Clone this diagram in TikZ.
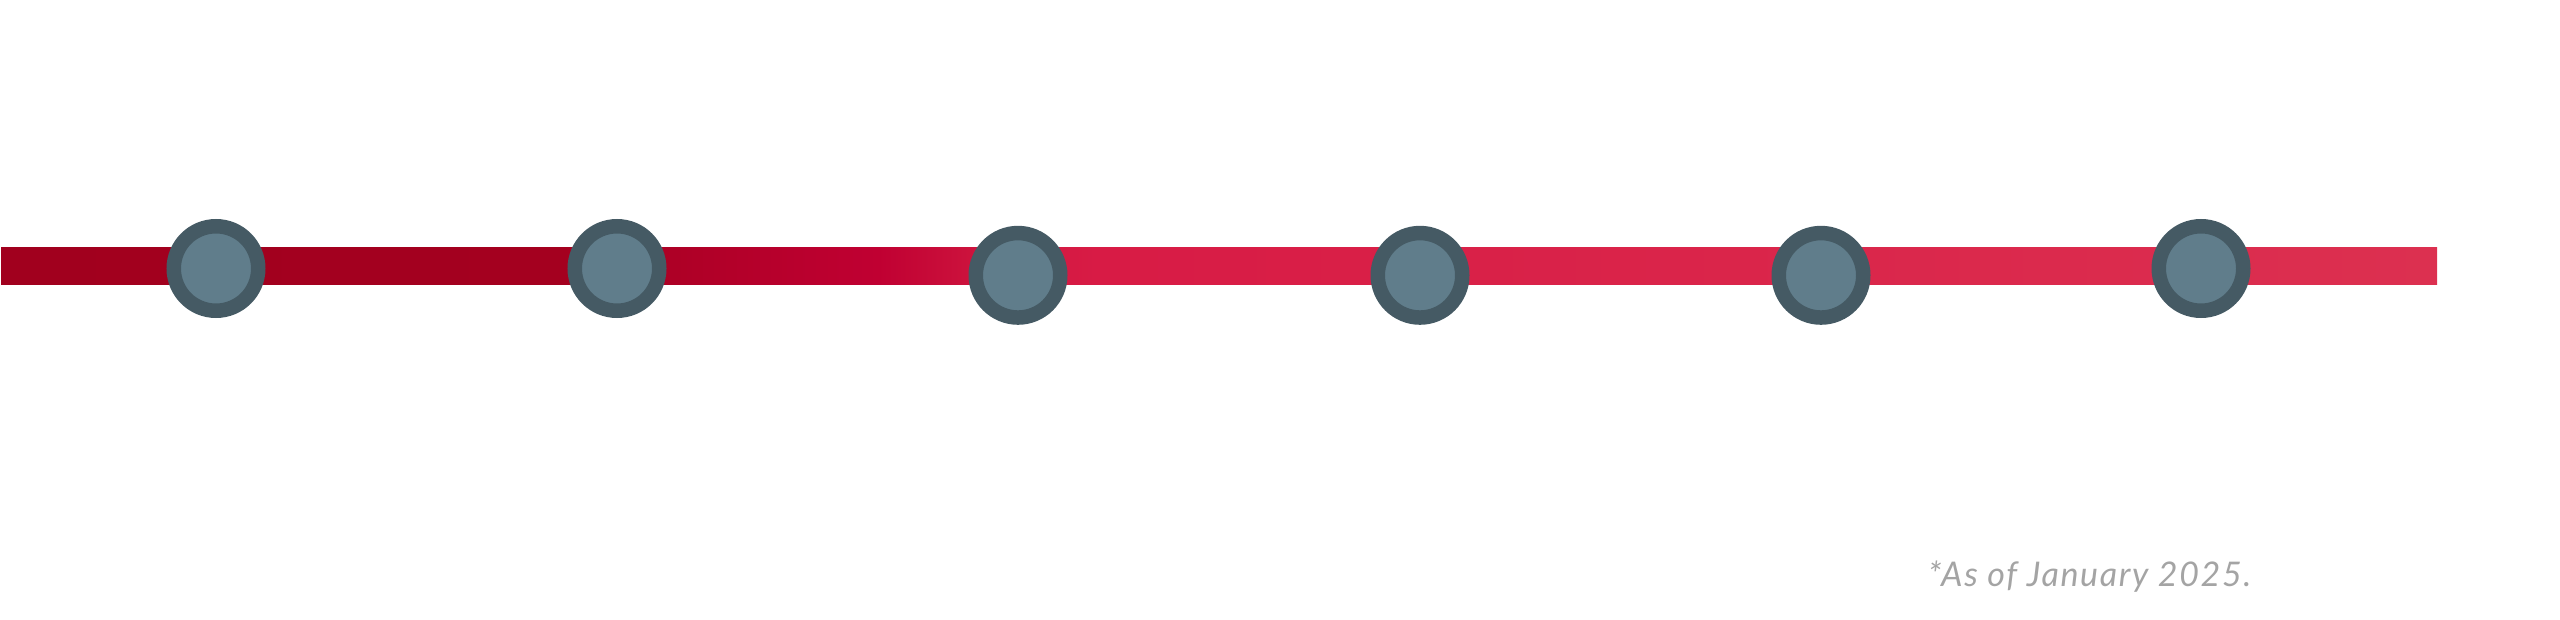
\documentclass[tikz,border=0pt]{standalone}
\usepackage{fontspec}
\newfontfamily\notefont{Lato}[LetterSpace=4.8]
\definecolor{ringc}{HTML}{455A64}
\definecolor{innerc}{HTML}{607D8B}
\definecolor{notec}{HTML}{A4A4A4}
\definecolor{b0}{HTML}{A1001E}
\definecolor{b1}{HTML}{A4001F}
\definecolor{b2}{HTML}{C00032}
\definecolor{b3}{HTML}{D01840}
\definecolor{b4}{HTML}{D81B45}
\definecolor{b5}{HTML}{DC3050}
\pgfdeclarehorizontalshading{barshade}{100bp}{color(0bp)=(b0); color(25bp)=(b0); color(36.5bp)=(b1); color(43bp)=(b2); color(45.5bp)=(b3); color(47.5bp)=(b4); color(75bp)=(b5); color(100bp)=(b5)}
\tikzset{
  station/.style={circle, draw=ringc, line width=14.5pt, fill=innerc, minimum size=84.5pt, inner sep=0pt},
  note/.style={font=\notefont\itshape\fontsize{34}{40}\selectfont, text=notec, inner sep=0pt, anchor=base west}
}
\begin{document}
\begin{tikzpicture}[x=1pt,y=-1pt]
\useasboundingbox (0,0) rectangle (2560,620);
\shade[shading=barshade] (1,247.3) rectangle (2437,284.3);
\node[station] (s1) at (216,268.5) {};
\node[station] (s2) at (617,268.5) {};
\node[station] (s3) at (1018,275.3) {};
\node[station] (s4) at (1420,275.3) {};
\node[station] (s5) at (1821,275.3) {};
\node[station] (s6) at (2201,268.5) {};
\node[note] (n) at (1928,586) {*As of January 2025.};
\end{tikzpicture}
\end{document}
